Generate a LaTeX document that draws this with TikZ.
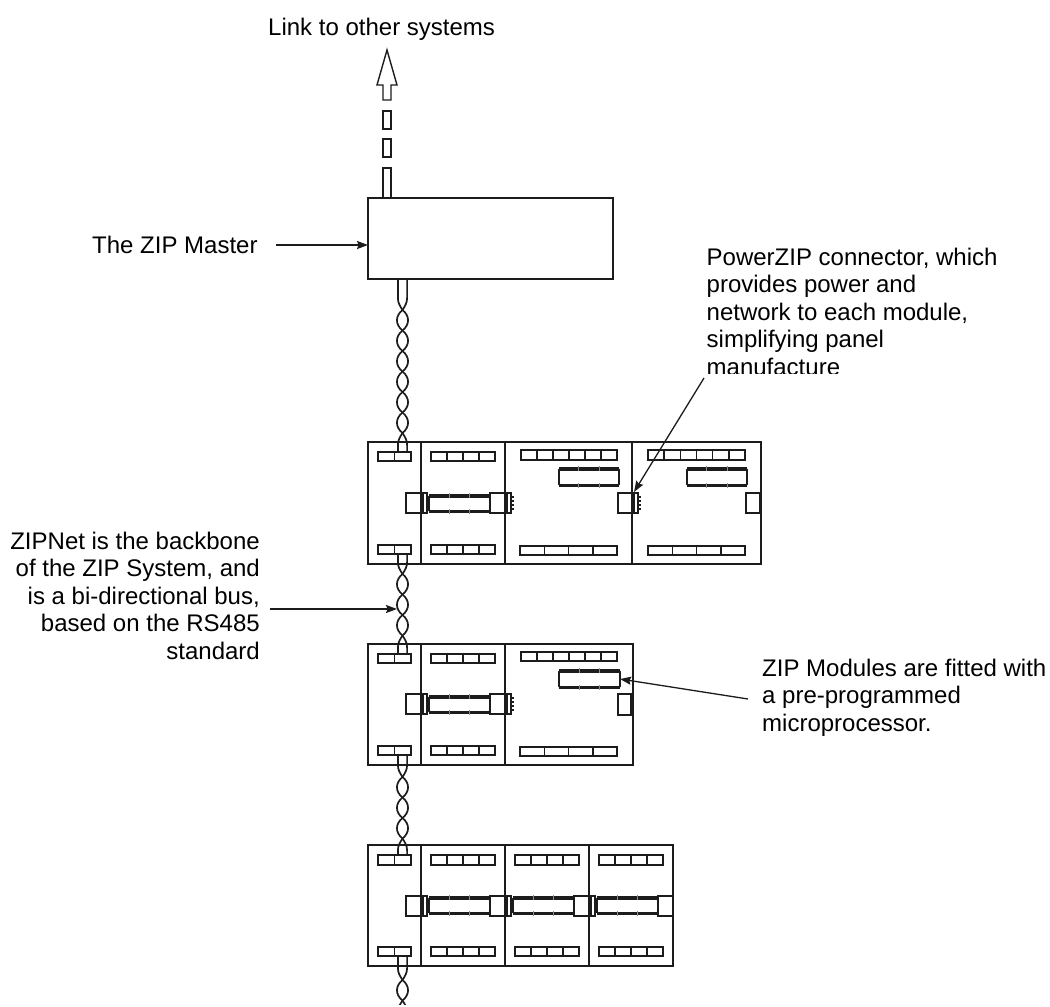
\documentclass[tikz,border=0pt]{standalone}
\usepackage{fontspec}
\setmainfont{Liberation Sans}
\usetikzlibrary{arrows.meta}
\definecolor{ink}{HTML}{1c1c1c}
\tikzset{
 box/.style={draw=ink,line width=1.7pt},
 thin box/.style={draw=ink,line width=1.5pt},
 lbl/.style={inner sep=0pt,font=\fontsize{24}{27.6}\selectfont,text=black},
 wire/.style={draw=ink,line width=1.7pt},
 lead/.style={draw=ink,line width=1.3pt,-{Stealth[length=11pt,width=8pt,inset=1.5pt]}}
}
\newcommand{\tblock}[6]{% x1 x2 y1 y2 n name
  \node[thin box,inner sep=0pt,outer sep=0pt,anchor=north west,minimum width=#2pt-#1pt,minimum height=#4pt-#3pt] (#6) at (#1,#3) {};
  \foreach \i in {1,...,#5}{\draw[ink,line width=1.5pt] ({#1+(#2-#1)*\i/#5},#3) -- ({#1+(#2-#1)*\i/#5},#4);}
}
\newcommand{\chipr}[4]{% x1 x2 y1 y2
  \draw[ink,line width=1.9pt,rounded corners=1pt] (#1,#3) rectangle (#2,#4);
  \draw[ink,line width=3.4pt] (#1,#3) -- (#2,#3);
  \draw[ink,line width=3pt] (#1,#4) -- (#2,#4);
  \foreach \f in {0.33,0.67}{\draw[ink!50,line width=.8pt] ({#1+(#2-#1)*\f},#3-3) -- ({#1+(#2-#1)*\f},#3+2);\draw[ink!50,line width=.8pt] ({#1+(#2-#1)*\f},#4-2) -- ({#1+(#2-#1)*\f},#4+3);}
}
\newcommand{\plug}[2]{% x of box left, y top
  \draw[ink,line width=1.4pt] (#1,#2) rectangle ++(15,20);
}
\newcommand{\sock}[2]{% x of divider, y top
  \draw[ink,line width=1.4pt] (#1,#2) rectangle ++(6,20);
  \draw[ink,line width=2.2pt] (#1+1.8,#2) -- (#1+1.8,#2+20);
  \foreach \k in {3,7,11,15}{\draw[ink,line width=1.1pt] (#1+6,#2+\k+1) -- ++(2.5,0);}
}
\newcommand{\twist}[5]{% x centre, y start, first crossing, crossing count, y end
  \pgfmathsetmacro{\lastc}{#3+(#4-1)*(\twistgap)}
  \foreach \s in {-1,1}{
    \draw[wire] (#1+\s*4.6,#2) -- (#1+\s*4.6,#3-12) .. controls (#1+\s*4.6,#3-7) and (#1+\s*2.5,#3-4) .. (#1,#3);
    \draw[wire] (#1,\lastc) .. controls (#1+\s*2.5,\lastc+4) and (#1+\s*4.6,\lastc+7) .. (#1+\s*4.6,\lastc+12) -- (#1+\s*4.6,#5);
    \ifnum#4>1
    \foreach \i in {2,...,#4}{
      \pgfmathsetmacro{\ya}{#3+(\i-2)*(\twistgap)}
      \pgfmathsetmacro{\yb}{\ya+\twistgap}
      \draw[wire] (#1,\ya) .. controls (#1+\s*7.4,\ya+6) and (#1+\s*7.4,\yb-6) .. (#1,\yb);
    }
    \fi
  }
}
\def\twistgap{20.5}
\begin{document}
\begin{tikzpicture}[x=1pt,y=-1pt]
\useasboundingbox (0,0) rectangle (1050,1007);
% text
\node[lbl,anchor=base west] (tlink) at (268,35) {Link to other systems};
\node[lbl,anchor=base west] (tmaster) at (92,253) {The ZIP Master};
\begin{scope}
\clip (700,240) rectangle (1050,373);
\node[lbl,anchor=north west,align=left] (tpower) at (706.5,247.5) {PowerZIP connector, which\\provides power and\\network to each module,\\simplifying panel\\manufacture};
\end{scope}
\node[lbl,anchor=north east,align=right] (tnet) at (260,531.5) {ZIPNet is the backbone\\of the ZIP System, and\\is a bi-directional bus,\\based on the RS485\\standard};
\node[lbl,anchor=north west,align=left] (tmod) at (762,658.5) {ZIP Modules are fitted with\\a pre-programmed\\microprocessor.};
% up arrow
\draw[ink,line width=1.4pt] (383,100) -- (383,85) -- (377,85) -- (387,50) -- (397,85) -- (391,85) -- (391,100) -- cycle;
\draw[ink,line width=1.4pt] (383,111) rectangle (391,129);
\draw[ink,line width=1.4pt] (383,139) rectangle (391,157);
\draw[ink,line width=1.4pt] (383,198) -- (383,168) -- (391,168) -- (391,198);
% master
\node[box,anchor=north west,inner sep=0pt,outer sep=0pt,minimum width=245pt,minimum height=81pt] (master) at (368,198) {};
% rack 1
\draw[box] (368,442) rectangle (761,564);
\foreach \x in {421,505,632}{\draw[box] (\x,442) -- (\x,564);}
\tblock{378}{411}{452}{461}{2}{a1}
\tblock{378}{411}{545}{554}{2}{a2}
\tblock{431}{495}{452}{461}{4}{a3}
\tblock{431}{495}{545}{554}{4}{a4}
\tblock{521}{617}{450}{460}{6}{a5}
\tblock{520}{617}{546}{555}{4}{a6}
\tblock{648}{745}{450}{460}{6}{a7}
\tblock{648}{745}{546}{555}{4}{a8}
\chipr{559}{619}{469}{485}
\chipr{687}{747}{469}{485}
\chipr{429}{490}{496}{511}
\plug{406}{493}\sock{421}{493}\plug{490}{493}\sock{505}{493}
\plug{618}{493}\sock{632}{493}
\draw[ink,line width=1.4pt] (746,493) rectangle (760,513);
% rack 2
\draw[box] (368,644) rectangle (633,765);
\foreach \x in {421,505}{\draw[box] (\x,644) -- (\x,765);}
\tblock{378}{411}{654}{663}{2}{b1}
\tblock{378}{411}{746}{755}{2}{b2}
\tblock{431}{495}{654}{663}{4}{b3}
\tblock{431}{495}{746}{755}{4}{b4}
\tblock{521}{617}{652}{661}{6}{b5}
\tblock{520}{617}{747}{756}{4}{b6}
\chipr{559}{620}{671}{687}
\chipr{429}{490}{697}{712}
\plug{406}{694}\sock{421}{694}\plug{490}{694}\sock{505}{694}
\draw[ink,line width=1.4pt] (618,694) rectangle (631,715);
% rack 3
\draw[box] (368,845) rectangle (673,966);
\foreach \x in {421,505,589}{\draw[box] (\x,845) -- (\x,966);}
\tblock{378}{411}{855}{865}{2}{c1}
\tblock{378}{411}{947}{956}{2}{c2}
\foreach \xa/\xb/\nm in {431/495/p,515/579/q,599/663/r}{
  \tblock{\xa}{\xb}{855}{865}{4}{c\nm1}
  \tblock{\xa}{\xb}{947}{956}{4}{c\nm2}
}
\chipr{429}{490}{898}{913}
\chipr{513}{574}{898}{913}
\chipr{597}{658}{898}{913}
\plug{406}{896}\sock{421}{896}\plug{490}{896}\sock{505}{896}\plug{574}{896}\sock{589}{896}\plug{658}{896}
% twisted pair
\twist{402.5}{279}{310}{7}{452}
\twist{402.5}{554}{574}{4}{654}
\twist{402.5}{755}{777}{4}{855}
\begin{scope}
\clip (380,950) rectangle (425,1004);
\twist{402.5}{956}{980}{2}{1020}
\end{scope}
% leaders
\coordinate (m1) at (276,245);
\coordinate (m2) at (368,245);
\draw[lead] (m1) -- (m2);
\coordinate (n1) at (270,609);
\coordinate (n2) at (397,609);
\draw[lead] (n1) -- (n2);
\coordinate (p1) at (704,378);
\coordinate (p2) at (634,492);
\draw[lead] (p1) -- (p2);
\coordinate (q1) at (748,699);
\coordinate (q2) at (620,679);
\draw[lead] (q1) -- (q2);
\end{tikzpicture}
\end{document}
